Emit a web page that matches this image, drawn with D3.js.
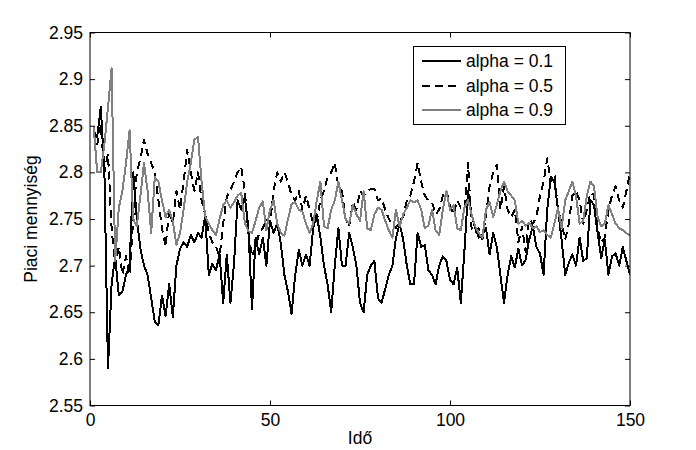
<!DOCTYPE html>
<html><head><meta charset="utf-8">
<script src="https://cdn.jsdelivr.net/npm/d3@7"></script>
<style>
html,body{margin:0;padding:0;background:#fff;}
svg{display:block;font-family:"Liberation Sans",Arial,Helvetica,sans-serif;}
</style></head>
<body><svg id="c" width="696" height="450"></svg>
<script>
const seriesNames = ["alpha = 0.1", "alpha = 0.5", "alpha = 0.9"];
const alpha01 = [2.845,2.838,2.870,2.800,2.590,2.680,2.710,2.668,2.672,2.690,
2.700,2.800,2.750,2.718,2.700,2.690,2.665,2.640,2.636,2.668,
2.646,2.680,2.645,2.700,2.718,2.725,2.720,2.733,2.725,2.735,
2.730,2.753,2.690,2.702,2.695,2.712,2.660,2.712,2.660,2.702,
2.770,2.760,2.774,2.740,2.653,2.730,2.712,2.730,2.700,2.748,
2.735,2.745,2.724,2.690,2.672,2.648,2.690,2.717,2.700,2.712,
2.700,2.740,2.755,2.730,2.700,2.680,2.650,2.700,2.740,2.700,
2.700,2.735,2.720,2.700,2.660,2.650,2.690,2.700,2.705,2.665,
2.660,2.675,2.690,2.700,2.730,2.745,2.728,2.700,2.680,2.680,
2.735,2.720,2.722,2.695,2.690,2.680,2.700,2.710,2.705,2.685,
2.680,2.698,2.660,2.715,2.780,2.755,2.740,2.730,2.733,2.740,
2.712,2.735,2.720,2.690,2.660,2.690,2.710,2.698,2.718,2.700,
2.706,2.728,2.742,2.720,2.713,2.690,2.760,2.795,2.790,2.760,
2.728,2.690,2.703,2.712,2.700,2.730,2.705,2.708,2.770,2.765,
2.735,2.708,2.728,2.690,2.710,2.713,2.700,2.720,2.705,2.690];
const alpha05 = [2.845,2.830,2.850,2.800,2.820,2.740,2.700,2.720,2.690,2.710,
2.690,2.750,2.800,2.815,2.835,2.820,2.810,2.800,2.770,2.740,
2.720,2.760,2.745,2.780,2.760,2.790,2.824,2.800,2.780,2.800,
2.770,2.755,2.735,2.725,2.720,2.710,2.745,2.774,2.781,2.790,
2.800,2.806,2.780,2.735,2.710,2.720,2.735,2.740,2.750,2.745,
2.780,2.800,2.790,2.800,2.790,2.775,2.770,2.780,2.760,2.775,
2.760,2.745,2.748,2.770,2.780,2.795,2.800,2.810,2.785,2.780,
2.750,2.742,2.768,2.760,2.780,2.775,2.780,2.782,2.782,2.770,
2.772,2.760,2.750,2.745,2.740,2.748,2.752,2.770,2.775,2.790,
2.810,2.790,2.775,2.770,2.768,2.755,2.760,2.775,2.780,2.765,
2.755,2.770,2.762,2.760,2.810,2.740,2.735,2.740,2.728,2.755,
2.785,2.800,2.808,2.760,2.785,2.760,2.752,2.760,2.725,2.742,
2.715,2.750,2.745,2.752,2.775,2.790,2.815,2.790,2.798,2.760,
2.745,2.728,2.745,2.775,2.780,2.770,2.745,2.760,2.778,2.776,
2.740,2.725,2.730,2.760,2.775,2.785,2.770,2.762,2.780,2.800];
const alpha09 = [2.850,2.800,2.800,2.830,2.870,2.912,2.705,2.762,2.780,2.810,
2.845,2.750,2.742,2.775,2.810,2.780,2.735,2.795,2.790,2.770,
2.752,2.760,2.748,2.722,2.735,2.760,2.790,2.810,2.835,2.838,
2.790,2.753,2.745,2.738,2.733,2.750,2.765,2.770,2.762,2.768,
2.775,2.778,2.746,2.737,2.735,2.748,2.762,2.769,2.738,2.760,
2.770,2.745,2.735,2.732,2.750,2.766,2.768,2.760,2.758,2.745,
2.735,2.745,2.770,2.790,2.742,2.740,2.760,2.770,2.790,2.770,
2.750,2.745,2.765,2.755,2.748,2.780,2.740,2.738,2.755,2.762,
2.760,2.748,2.738,2.730,2.760,2.742,2.755,2.762,2.770,2.768,
2.770,2.760,2.740,2.743,2.760,2.738,2.733,2.760,2.780,2.760,
2.765,2.740,2.738,2.762,2.770,2.755,2.742,2.735,2.730,2.760,
2.768,2.752,2.765,2.780,2.790,2.780,2.775,2.770,2.745,2.748,
2.743,2.746,2.740,2.742,2.736,2.738,2.733,2.730,2.745,2.762,
2.740,2.770,2.780,2.790,2.775,2.745,2.748,2.775,2.790,2.785,
2.752,2.742,2.745,2.765,2.755,2.745,2.740,2.738,2.735,2.732];
const xTicks = [0, 50, 100, 150];
const xTickLabels = ["0", "50", "100", "150"];
const yTicks = [2.55, 2.6, 2.65, 2.7, 2.75, 2.8, 2.85, 2.9, 2.95];
const yTickLabels = ["2.55", "2.6", "2.65", "2.7", "2.75", "2.8", "2.85", "2.9", "2.95"];
const xLabel = "Idő";
const yLabel = "Piaci mennyiség";

const L = 90, R = 630, T = 32.5, B = 405.5;
const svg = d3.select("#c");
const x = d3.scaleLinear().domain([0, 150]).range([L, R]);
const y = d3.scaleLinear().domain([2.55, 2.95]).range([B, T]);
const FS = 17.5;

const styles = [
  {data: alpha01, color: "#000", dash: null},
  {data: alpha05, color: "#000", dash: "8,5"},
  {data: alpha09, color: "#808080", dash: null}
];
const line = d3.line().x((d, i) => x(i + 1)).y(d => y(d));
svg.append("clipPath").attr("id", "pc").append("rect")
  .attr("x", L).attr("y", T).attr("width", R - L).attr("height", B - T);
styles.forEach(s => {
  svg.append("path").datum(s.data).attr("d", line)
    .attr("fill", "none").attr("stroke", s.color).attr("stroke-width", 2)
    .attr("stroke-linejoin", "round").attr("shape-rendering", "crispEdges")
    .attr("stroke-dasharray", s.dash).attr("clip-path", "url(#pc)");
});

const fmtX = (d) => xTickLabels[xTicks.indexOf(d)];
const fmtY = (d) => yTickLabels[yTicks.indexOf(d)];
const gB = svg.append("g").attr("transform", `translate(0,${B})`)
  .call(d3.axisBottom(x).tickValues(xTicks).tickFormat(fmtX).tickSize(-5).tickSizeOuter(0).tickPadding(8));
const gT = svg.append("g").attr("transform", `translate(0,${T})`)
  .call(d3.axisTop(x).tickValues(xTicks).tickFormat("").tickSize(-5).tickSizeOuter(0));
const gL = svg.append("g").attr("transform", `translate(${L},0)`)
  .call(d3.axisLeft(y).tickValues(yTicks).tickFormat(fmtY).tickSize(-5).tickSizeOuter(0).tickPadding(7));
const gR = svg.append("g").attr("transform", `translate(${R},0)`)
  .call(d3.axisRight(y).tickValues(yTicks).tickFormat("").tickSize(-5).tickSizeOuter(0));
[gB, gT, gL, gR].forEach(g => {
  g.select(".domain").remove();
  g.selectAll("line").attr("stroke", "#000").attr("stroke-width", 1);
  g.selectAll("text").attr("font-size", FS).attr("fill", "#000")
    .attr("font-family", "'Liberation Sans',Arial,sans-serif");
});
svg.append("rect").attr("x", L).attr("y", T).attr("width", R - L).attr("height", B - T)
  .attr("fill", "none").attr("stroke", "#000").attr("stroke-width", 1);

svg.append("text").attr("x", (L + R) / 2).attr("y", 444).attr("text-anchor", "middle")
  .attr("font-size", FS).text(xLabel);
svg.append("text").attr("transform", `translate(37,${(T + B) / 2}) rotate(-90)`)
  .attr("text-anchor", "middle").attr("font-size", FS).text(yLabel);

const lg = svg.append("g");
lg.append("rect").attr("x", 413.5).attr("y", 46.5).attr("width", 152).attr("height", 78)
  .attr("fill", "#fff").attr("stroke", "#000").attr("stroke-width", 1);
const ly = [61, 85.5, 110];
styles.forEach((s, i) => {
  lg.append("line").attr("x1", 422).attr("x2", 461).attr("y1", ly[i]).attr("y2", ly[i])
    .attr("stroke", s.color).attr("stroke-width", 2).attr("stroke-dasharray", s.dash)
    .attr("shape-rendering", "crispEdges");
  lg.append("text").attr("x", 466).attr("y", ly[i]).attr("dy", "0.35em")
    .attr("font-size", FS).text(seriesNames[i]);
});
</script></body></html>
